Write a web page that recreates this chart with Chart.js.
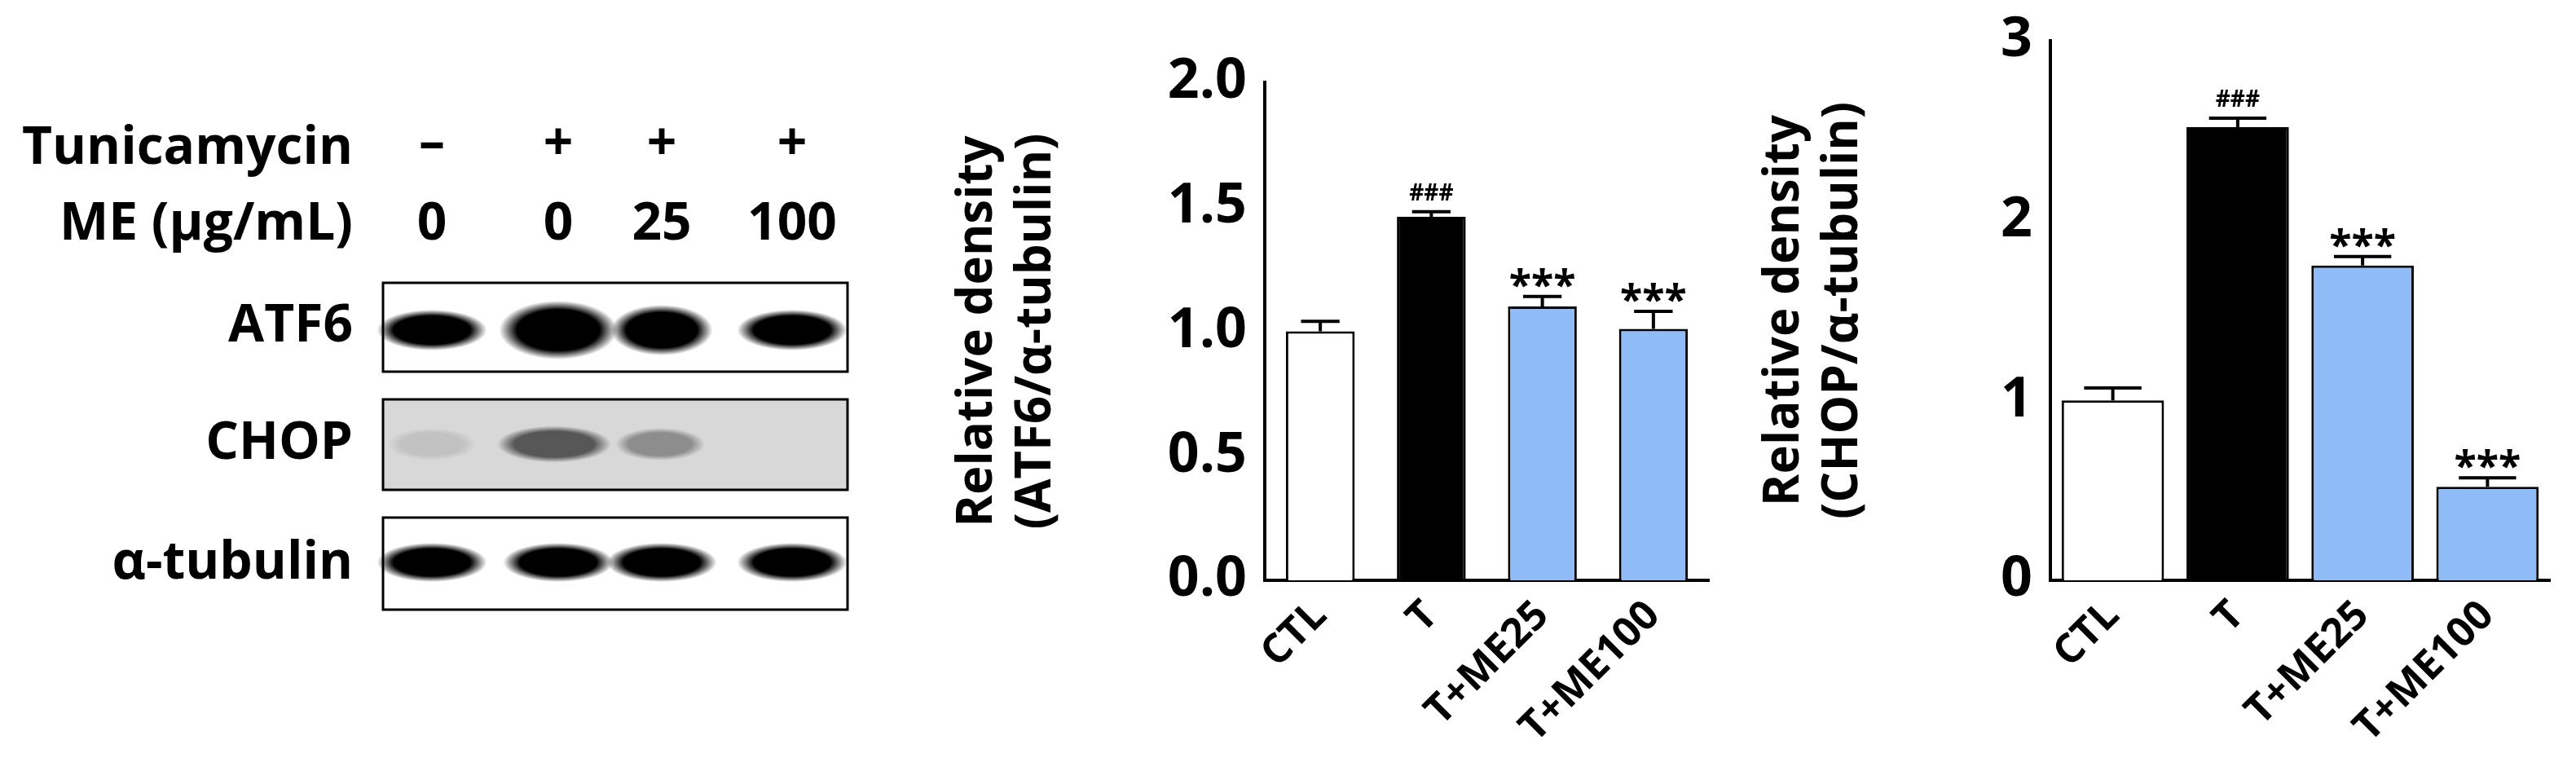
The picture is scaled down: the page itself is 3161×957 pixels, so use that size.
<!DOCTYPE html><html><head><meta charset="utf-8">
<script src="https://cdn.jsdelivr.net/npm/chart.js@4/dist/chart.umd.min.js"></script>
<style>body{margin:0;width:3161px;height:957px;background:#fff;position:relative;overflow:hidden}
canvas{position:absolute}</style></head><body>
<canvas id="blot" width="1150" height="957" style="left:0;top:0;width:1150px;height:957px"></canvas>
<div style="position:absolute;left:1160px;top:0;width:950px;height:957px"><canvas id="c1"></canvas></div>
<div style="position:absolute;left:2150px;top:0;width:1000px;height:957px"><canvas id="c2"></canvas></div>
<script>
const categories=["CTL","T","T+ME25","T+ME100"];
const atf6Values=[1.00,1.46,1.10,1.01];
const atf6Errors=[0.04,0.02,0.04,0.07];
const chopValues=[1.00,2.52,1.75,0.52];
const chopErrors=[0.07,0.05,0.05,0.05];
const marks=["","###","***","***"];
const barColors=["#ffffff","#000000","#8fbcf7","#8fbcf7"];
const tunicamycin=["–","+","+","+"];
const meDose=["0","0","25","100"];
const F="'Open Sans','Liberation Sans',sans-serif";

(function(){
 const c=document.getElementById('blot').getContext('2d');
 c.fillStyle='#000';c.textBaseline='middle';
 c.font="bold 64px "+F;c.textAlign='right';
 c.fillText("Tunicamycin",433,183,420);c.fillText("ME (μg/mL)",433,276,420);
 const lanes=[530,685,812,972];
 c.textAlign='center';
 lanes.forEach((x,i)=>{c.fillText(tunicamycin[i],x,178);c.fillText(meDose[i],x,276);});
 c.textAlign='right';
 c.fillText("ATF6",433,401);c.fillText("CHOP",433,545);c.fillText("α-tubulin",433,692);
 function box(y,h,bg){c.fillStyle=bg;c.fillRect(470,y,570,h);}
 function blob(x,y,w,h,a){const g=c.createRadialGradient(x,y,0,x,y,w/2);
  g.addColorStop(0,`rgba(0,0,0,${a})`);g.addColorStop(0.7,`rgba(0,0,0,${a})`);g.addColorStop(1,'rgba(0,0,0,0)');
  c.save();c.translate(x,y);c.scale(1,h/w);c.translate(-x,-y);c.fillStyle=g;c.beginPath();c.arc(x,y,w/2,0,7);c.fill();c.restore();}
 box(347,109,'#fff');[[530,110,40],[685,120,62],[812,100,52],[972,110,40]].forEach(b=>blob(b[0],405,b[1]+25,b[2]+10,1));
 box(490,111,'#d8d8d8');[[680,140,45,0.6],[810,110,40,0.35],[530,110,40,0.1]].forEach(b=>blob(b[0],545,b[1],b[2],b[3]));
 box(635,113,'#fff');lanes.forEach(x=>blob(x,690,135,48,1));
 c.strokeStyle='#000';c.lineWidth=3;[[347,109],[490,111],[635,113]].forEach(r=>c.strokeRect(470,r[0],570,r[1]));
})();

const errPlugin={id:'err',afterDatasetsDraw(ch){
 const o=ch.options.plugins.err;const m=ch.getDatasetMeta(0);const y=ch.scales.y;const c=ch.ctx;
 c.save();c.strokeStyle='#000';c.lineWidth=4;c.fillStyle='#000';c.textAlign='center';c.textBaseline='bottom';
 m.data.forEach((b,i)=>{const v=o.values[i],e=o.errors[i];const yt=y.getPixelForValue(v+e);
  const hw=b.width*0.28;c.beginPath();c.moveTo(b.x,y.getPixelForValue(v));c.lineTo(b.x,yt);
  c.moveTo(b.x-hw,yt);c.lineTo(b.x+hw,yt);c.stroke();
  if(marks[i]){c.font=marks[i]==="###"?"bold 28px "+F:"bold 50px "+F;c.fillText(marks[i],b.x,yt+(marks[i]==="###"?-8:14));}
 });c.restore();}};

function make(id,vals,errs,max,step,dec,title,yW,xEndPad,bp,top){
 return new Chart(document.getElementById(id),{type:'bar',plugins:[errPlugin],
 data:{labels:categories,datasets:[{data:vals,backgroundColor:barColors,borderColor:'#000',borderWidth:3,barPercentage:bp,categoryPercentage:1}]},
 options:{responsive:true,maintainAspectRatio:false,animation:false,
  layout:{padding:{top:top,right:xEndPad,left:0,bottom:0}},
  plugins:{legend:{display:false},tooltip:{enabled:false},err:{values:vals,errors:errs}},
  scales:{
   x:{grid:{display:false,drawTicks:false},border:{color:'#000',width:4},
     ticks:{color:'#000',font:{family:F,weight:'bold',size:50},maxRotation:45,minRotation:45,padding:14},
     afterFit(s){s.height=245;}},
   y:{min:0,max:max,grid:{display:false,drawTicks:true,tickLength:14,tickColor:'#000',tickWidth:4},border:{color:'#000',width:4},
     ticks:{stepSize:step,color:'#000',font:{family:F,weight:'bold',size:68},padding:8,callback:v=>v.toFixed(dec)},
     title:{display:true,text:title,color:'#000',font:{family:F,weight:'bold',size:60},padding:{bottom:14},lineHeight:1.15},
     afterFit(s){s.width=yW;}}
  }}});
}
make('c1',atf6Values,atf6Errors,2,0.5,1,["Relative density","(ATF6/α-tubulin)"],392,13,0.62,101);
make('c2',chopValues,chopErrors,3,1,0,["Relative density","(CHOP/α-tubulin)"],366,21,0.82,50);
</script></body></html>
